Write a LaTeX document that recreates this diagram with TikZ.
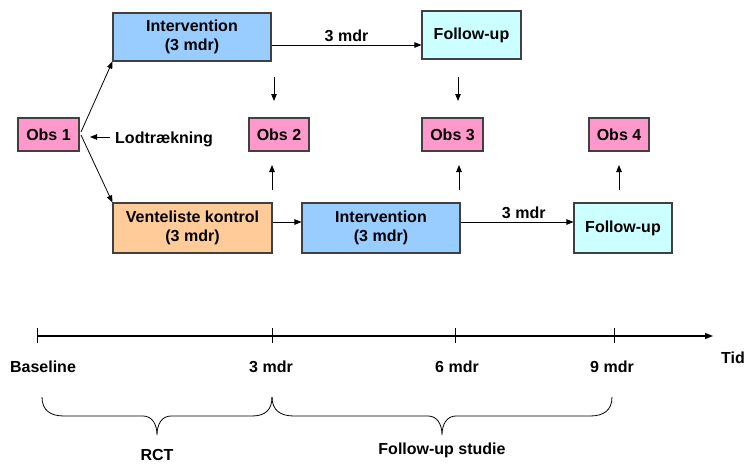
\documentclass[tikz,border=0pt]{standalone}
\usepackage{fontspec}
\setmainfont{Liberation Sans}
\usetikzlibrary{arrows.meta}
\definecolor{cblue}{HTML}{99CCFF}
\definecolor{ccyan}{HTML}{CCFFFF}
\definecolor{cpink}{HTML}{FF99CC}
\definecolor{corange}{HTML}{FFCC99}
\definecolor{cborder}{HTML}{404040}
\begin{document}
\begin{tikzpicture}[x=1pt,y=-1pt,
  font=\fontsize{16}{19.5}\selectfont\bfseries,
  box/.style={draw=cborder,line width=1.1pt,align=center,inner sep=0pt},
  obsbox/.style={box,fill=cpink,minimum width=60pt,minimum height=33pt},
  lbl/.style={inner sep=0pt,align=center},
  arr/.style={line width=0.8pt,-{Triangle[length=7pt,width=5.5pt]}},
  tick/.style={line width=0.8pt},
  brace/.style={line width=0.8pt}]
\useasboundingbox (0,0) rectangle (746,463);
% boxes
\node[box,fill=cblue,minimum width=158pt,minimum height=48pt] (intTop) at (192,37) {Intervention\\(3 mdr)};
\node[box,fill=ccyan,minimum width=99pt,minimum height=48pt] (fuTop) at (471.5,35) {Follow-up};
\node[obsbox,minimum width=61pt] (obs1) at (48.5,134.5) {Obs 1};
\node[obsbox] (obs2) at (279,134.5) {Obs 2};
\node[obsbox,minimum width=61pt] (obs3) at (452.5,134.5) {Obs 3};
\node[obsbox] (obs4) at (619,134.5) {Obs 4};
\node[box,fill=corange,minimum width=159pt,minimum height=50pt] (vent) at (192.5,228) {Venteliste kontrol\\(3 mdr)};
\node[box,fill=cblue,minimum width=158pt,minimum height=50pt] (intBot) at (381,228) {Intervention\\(3 mdr)};
\node[box,fill=ccyan,minimum width=98pt,minimum height=50pt] (fuBot) at (623,228) {Follow-up};
\node[lbl,anchor=west] (lod) at (115,139) {Lodtrækning};
% connectors
\coordinate (o1a) at (81,132);
\coordinate (o1b) at (81,135);
\draw[arr] (o1a) -- (intTop.south west);
\draw[arr] (o1b) -- (vent.north west);
\coordinate (lodA) at (110,137);
\coordinate (lodB) at (90,137);
\draw[arr] (lodA) -- (lodB);
\draw[arr] ([yshift=-8pt]intTop.east) -- node[lbl,above=3pt] (m1) {3 mdr} ([yshift=-8pt]intTop.east -| fuTop.west);
\draw[arr] ([yshift=6pt]vent.east) -- ([yshift=6pt]vent.east -| intBot.west);
\draw[arr] ([yshift=6pt]intBot.east) -- node[lbl,above=3pt,pos=0.56] (m2) {3 mdr} ([yshift=6pt]intBot.east -| fuBot.west);
% small down arrows
\coordinate (d2a) at (274,77); \coordinate (d2b) at (274,101);
\coordinate (d3a) at (458,77); \coordinate (d3b) at (458,101);
\draw[arr] (d2a) -- (d2b);
\draw[arr] (d3a) -- (d3b);
% small up arrows
\coordinate (u2a) at (272,190); \coordinate (u2b) at (272,165);
\coordinate (u3a) at (459,190); \coordinate (u3b) at (459,165);
\coordinate (u4a) at (619,190); \coordinate (u4b) at (619,165);
\draw[arr] (u2a) -- (u2b);
\draw[arr] (u3a) -- (u3b);
\draw[arr] (u4a) -- (u4b);
% timeline
\coordinate (t0) at (37,336);
\coordinate (tend) at (713,336);
\draw[line width=1.3pt,-{Triangle[length=8pt,width=6pt]}] (t0) -- (tend);
\foreach \x in {37,272,455,614} \draw[tick] (\x,328) -- (\x,343);
\node[lbl] (tb) at (43,367) {Baseline};
\node[lbl] (t3) at (271,367) {3 mdr};
\node[lbl] (t6) at (457,367) {6 mdr};
\node[lbl] (t9) at (612,367) {9 mdr};
\node[lbl] (tid) at (733,358) {Tid};
% braces
\draw[brace] (42,397) .. controls (42,410) and (50,416) .. (64,416) -- (143,416)
  .. controls (152,416) and (157,424) .. (157,435)
  .. controls (157,424) and (162,416) .. (171,416) -- (252,416)
  .. controls (265,416) and (272,410) .. (272,397);
\draw[brace] (272,397) .. controls (272,410) and (280,416) .. (294,416) -- (428,416)
  .. controls (437,416) and (442,424) .. (442,435)
  .. controls (442,424) and (447,416) .. (456,416) -- (590,416)
  .. controls (604,416) and (612,410) .. (612,397);
\node[lbl] (rct) at (157,455) {RCT};
\node[lbl] (fus) at (442,450) {Follow-up studie};
\end{tikzpicture}
\end{document}
